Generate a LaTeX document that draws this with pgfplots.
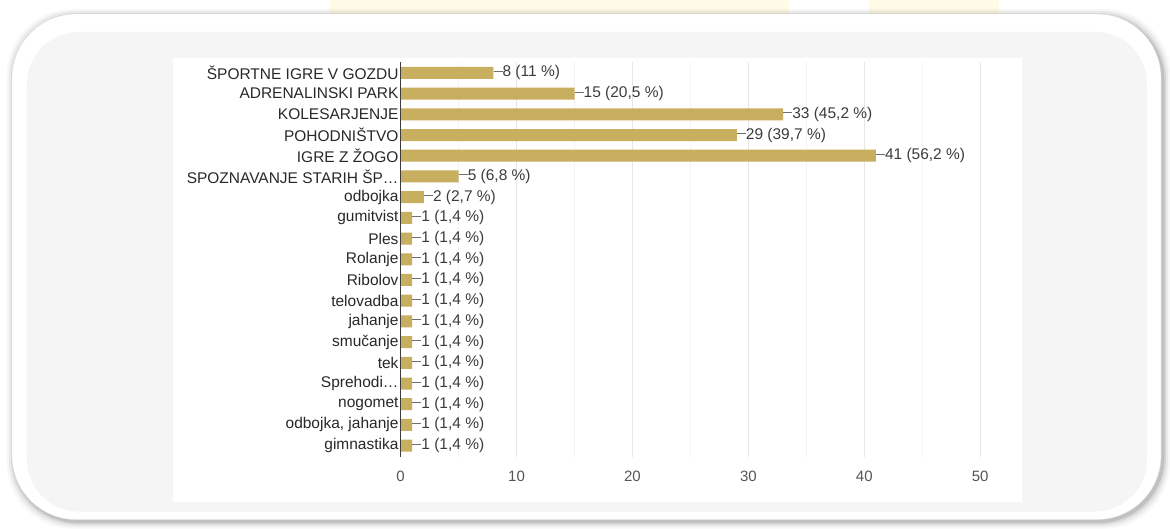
\documentclass[border=0pt]{standalone}
\usepackage{pgfplots}
\pgfplotsset{compat=1.18}
\usepackage{pgfplotstable}
\usepackage{fontspec}
\setmainfont{Liberation Sans}
\definecolor{barcol}{RGB}{200,175,96}
\definecolor{catcol}{RGB}{40,40,40}
\definecolor{valcol}{RGB}{60,60,60}
\definecolor{dashcol}{RGB}{110,110,110}
\definecolor{tickcol}{RGB}{85,85,85}
\definecolor{majgrid}{RGB}{230,230,230}
\definecolor{mingrid}{RGB}{243,243,243}
\definecolor{panelgray}{RGB}{245,245,245}
\definecolor{axcol}{RGB}{60,60,60}
\definecolor{headyellow}{RGB}{255,248,200}

\pgfplotstableread[col sep=semicolon]{
y;v;lab
0;8;8 (11 \%)
1;15;15 (20,5 \%)
2;33;33 (45,2 \%)
3;29;29 (39,7 \%)
4;41;41 (56,2 \%)
5;5;5 (6,8 \%)
6;2;2 (2,7 \%)
7;1;1 (1,4 \%)
8;1;1 (1,4 \%)
9;1;1 (1,4 \%)
10;1;1 (1,4 \%)
11;1;1 (1,4 \%)
12;1;1 (1,4 \%)
13;1;1 (1,4 \%)
14;1;1 (1,4 \%)
15;1;1 (1,4 \%)
16;1;1 (1,4 \%)
17;1;1 (1,4 \%)
18;1;1 (1,4 \%)
}\datatable

\begin{document}
\begin{tikzpicture}[x=1pt,y=1pt]
\fill[white] (0,0) rectangle (1170,526);
% faint blurred header
\fill[headyellow,opacity=0.45] (330,512) rectangle (790,526);
\fill[headyellow,opacity=0.45] (870,512) rectangle (1000,526);
% frame shadow
\foreach \d/\o in {7/0.03,5/0.05,3/0.08,1.5/0.10}{
  \fill[black,opacity=\o,rounded corners=66] (12-\d+2,6-\d-2) rectangle (1162+\d+2,512+\d-2);
}
\fill[white,rounded corners=64] (12,6) rectangle (1162,512);
\draw[black!12,rounded corners=64] (12,6) rectangle (1162,512);
\fill[panelgray,rounded corners=52] (27,14) rectangle (1148,494);
\fill[white] (173,24) rectangle (1023,468);
\begin{axis}[
  at={(401pt,69pt)}, anchor=south west,
  scale only axis, width=580pt, height=395pt,
  xmin=0, xmax=50, ymin=-0.53, ymax=18.53,
  y dir=reverse,
  xbar, bar width=12pt,
  axis line style={draw=none},
  tick style={draw=none},
  major tick length=0pt, minor tick length=0pt,
  xtick={0,10,20,30,40,50},
  minor xtick={5,15,25,35,45},
  xmajorgrids, xminorgrids,
  major grid style={draw=majgrid, line width=0.8pt},
  minor grid style={draw=mingrid, line width=0.8pt},
  ytick={0,...,18},
  yticklabels={{ŠPORTNE IGRE V GOZDU},{ADRENALINSKI PARK},{KOLESARJENJE},{POHODNIŠTVO},{IGRE Z ŽOGO},{SPOZNAVANJE STARIH ŠP…},{odbojka},{gumitvist},{Ples},{Rolanje},{Ribolov},{telovadba},{jahanje},{smučanje},{tek},{Sprehodi…},{nogomet},{odbojka, jahanje},{gimnastika}},
  yticklabel style={font=\fontsize{15.5}{17}\selectfont, text=catcol, inner sep=2pt},
  /pgf/number format/assume math mode=true,
  xticklabel style={font=\fontsize{15}{16}\selectfont, text=tickcol, inner sep=0pt, yshift=-14pt},
  point meta=explicit symbolic,
  nodes near coords={\textcolor{dashcol}{\rule[0.33em]{9pt}{0.9pt}}\pgfplotspointmeta},
  nodes near coords style={anchor=west, inner sep=0pt, xshift=0pt, font=\fontsize{15.5}{17}\selectfont, text=valcol},
  clip=false,
]
\addplot[fill=barcol, draw=none] table[x=v, y=y, meta=lab] {\datatable};
\draw[axcol, line width=1.1pt] (axis cs:0,-0.53) -- (axis cs:0,18.53);
\end{axis}
\end{tikzpicture}
\end{document}
